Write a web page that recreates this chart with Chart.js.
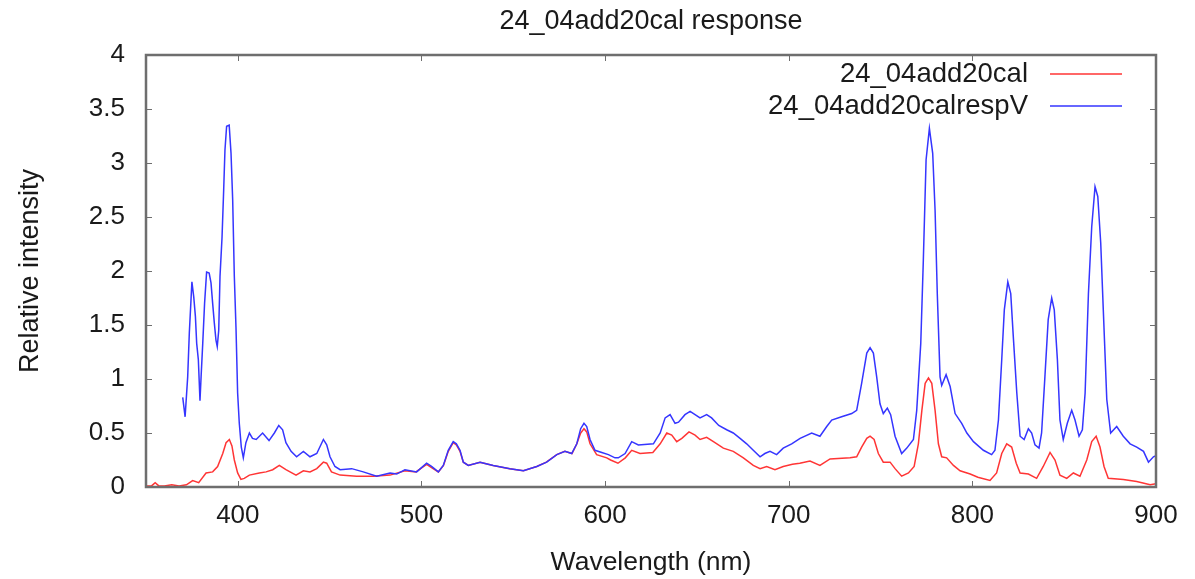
<!DOCTYPE html>
<html>
<head>
<meta charset="utf-8">
<script src="https://cdn.jsdelivr.net/npm/chart.js@4"></script>
<style>
  html, body { margin: 0; padding: 0; background: #fff; }
  #wrap { width: 1195px; height: 579px; }
</style>
</head>
<body>
<div id="wrap"><canvas id="respChart" width="1195" height="579"></canvas></div>
<script>
// 24_04add20cal (red)
const calWavelengths = [
  350, 353, 355, 357, 360, 364, 368, 372, 375.4, 378.7, 382.7, 386.3, 389, 391.8, 393.6, 395.4, 396.8, 398.1, 399.9,
  401.7, 403.5, 406.3, 411.7, 415.4, 419, 422.6, 426.2, 431.7, 435.7, 439.3, 443, 446.6, 448.4, 451, 455.7, 464.7,
  473.8, 482.9, 491, 497, 502.8, 505.5, 509.2, 512, 514.6, 517.3, 519, 521, 522.8, 525.5, 531.9, 539, 548, 555.5,
  562.8, 568, 573.7, 578, 582, 584.6, 586.7, 588.5, 590, 591.8, 595.4, 600.9, 603, 607, 611, 614.5, 619, 626, 630,
  633.6, 636.3, 639, 641.8, 645.7, 649, 651.7, 655.3, 659, 664.4, 669.8, 675.3, 680.7, 684.4, 688, 692.5, 697, 702,
  706, 711.6, 717, 722.5, 733.4, 737, 739.7, 742.5, 744.3, 746.5, 748.8, 751.5, 755.2, 757.9, 761.5, 765.2, 768.3,
  770.6, 772.5, 774.3, 776.1, 777.9, 779.7, 781.5, 783.3, 786, 789.7, 793.3, 798.8, 803, 809.6, 813.2, 816, 818.7,
  821.4, 823.9, 826, 830.5, 835, 838.6, 842.3, 845, 847.7, 851.4, 855, 858.6, 862.3, 865, 867.4, 869.5, 871.7, 874,
  882.2, 889.5, 896.8, 900
];
const calValues = [
  0.01, 0.01, 0.04, 0.01, 0.01, 0.02, 0.01, 0.02, 0.06, 0.04, 0.13, 0.14, 0.19, 0.31, 0.41, 0.44, 0.38, 0.25, 0.13,
  0.07, 0.08, 0.11, 0.13, 0.14, 0.16, 0.20, 0.16, 0.11, 0.15, 0.14, 0.17, 0.23, 0.22, 0.14, 0.11, 0.10,
  0.10, 0.11, 0.15, 0.14, 0.21, 0.18, 0.14, 0.20, 0.33, 0.41, 0.39, 0.33, 0.23, 0.20, 0.23, 0.20, 0.17, 0.15,
  0.19, 0.23, 0.30, 0.33, 0.31, 0.40, 0.50, 0.54, 0.51, 0.40, 0.30, 0.27, 0.25, 0.22, 0.27, 0.34, 0.31, 0.32, 0.40,
  0.50, 0.48, 0.42, 0.45, 0.51, 0.48, 0.44, 0.46, 0.42, 0.36, 0.33, 0.27, 0.20, 0.17, 0.19, 0.16, 0.19, 0.21,
  0.22, 0.24, 0.20, 0.26, 0.27, 0.28, 0.37, 0.45, 0.47, 0.44, 0.31, 0.23, 0.23, 0.17, 0.10, 0.13, 0.19,
  0.40, 0.71, 0.96, 1.01, 0.96, 0.71, 0.40, 0.28, 0.27, 0.20, 0.15, 0.12, 0.09, 0.06, 0.13, 0.31, 0.40,
  0.37, 0.22, 0.13, 0.12, 0.08, 0.19, 0.32, 0.25, 0.11, 0.08, 0.13, 0.10, 0.25, 0.42, 0.47, 0.37, 0.19, 0.08,
  0.07, 0.05, 0.02, 0.03
];

// 24_04add20calrespV (blue)
const respWavelengths = [
  370, 371.3, 372.7, 373.6, 374.5, 375, 376, 376.9, 377.6, 378.5, 379.4, 380, 380.9, 381.9, 383, 384.4, 385.4, 386.3,
  387.2, 388.1, 388.8, 389.6, 390.3, 391.4, 392.3, 393, 393.9, 395.3, 396.3, 397.2, 398.1, 399, 399.9, 400.8, 401.9,
  403, 404.4, 406.3, 408, 410, 413.5, 417, 419.9, 422.3, 424.4, 426.2, 429, 432, 435.7, 439.3, 443, 446.6, 448.4,
  450.2, 452.9, 455.7, 462, 468.3, 475.6, 482.9, 486.5, 491, 497.4, 502.8, 505.5, 509.2, 511.9, 514.6, 517.3, 519,
  521, 522.8, 525.5, 531.9, 539.1, 548.2, 555.5, 562.8, 568.2, 573.7, 578.2, 581.8, 584.6, 586.7, 588.5, 590, 591.8,
  594.5, 598.2, 601.8, 605.4, 607.2, 610.9, 614.5, 618.1, 626.3, 630, 632.7, 635.4, 638.1, 640, 643.5, 646.3, 649,
  651.7, 655.3, 658, 661.9, 666.2, 669.8, 673.5, 677.1, 680.7, 684.4, 687, 689.8, 693.4, 697, 701.6, 706.2, 712.5,
  717, 720.7, 723.4, 728.8, 734.3, 737, 739.7, 742.5, 744.3, 746.1, 747.9, 749.7, 751.5, 753.7, 755.5, 757.9, 761.5,
  764.3, 767.9, 769.7, 771.9, 773.3, 774.8, 776.6, 778.4, 779.7, 780.9, 782.4, 783.3, 785.7, 787.9, 790.6, 794.2,
  797, 800.6, 806, 810.5, 812.3, 814.2, 816, 817.4, 819.3, 820.9, 822.3, 824.2, 826, 828.2, 830.5, 832.3, 834.1,
  836.3, 837.7, 839.5, 841.3, 843.2, 844.6, 846.3, 847.7, 849.5, 851.7, 854.1, 855.9, 858.1, 859.9, 861.4, 863.2,
  865, 866.8, 868.3, 869.9, 871.3, 873.2, 875.3, 878.6, 882.2, 885.9, 889.5, 893.2, 895.9, 898.6, 900
];
const respValues = [
  0.83, 0.65, 1.02, 1.43, 1.73, 1.90, 1.76, 1.58, 1.33, 1.18, 0.80, 1.02, 1.33, 1.70, 1.99, 1.98, 1.89, 1.70,
  1.52, 1.36, 1.30, 1.45, 1.95, 2.31, 2.75, 3.12, 3.34, 3.35, 3.09, 2.66, 1.95, 1.48, 0.87, 0.59, 0.37,
  0.27, 0.41, 0.50, 0.45, 0.44, 0.50, 0.43, 0.50, 0.57, 0.53, 0.41, 0.33, 0.28, 0.33, 0.28, 0.31, 0.44, 0.39,
  0.28, 0.19, 0.16, 0.17, 0.14, 0.10, 0.13, 0.12, 0.16, 0.14, 0.22, 0.19, 0.14, 0.20, 0.34, 0.42, 0.40,
  0.34, 0.23, 0.20, 0.23, 0.20, 0.17, 0.15, 0.19, 0.23, 0.30, 0.33, 0.31, 0.40, 0.54, 0.59, 0.56, 0.44,
  0.34, 0.32, 0.30, 0.27, 0.27, 0.31, 0.42, 0.39, 0.40, 0.50, 0.64, 0.67, 0.59, 0.60, 0.67, 0.70, 0.67,
  0.64, 0.67, 0.64, 0.57, 0.53, 0.50, 0.45, 0.40, 0.34, 0.28, 0.31, 0.33, 0.30, 0.36, 0.40, 0.45, 0.50,
  0.47, 0.56, 0.62, 0.65, 0.68, 0.71, 0.96, 1.24, 1.29, 1.24, 1.02, 0.77, 0.68, 0.73, 0.67, 0.47, 0.31,
  0.36, 0.44, 0.71, 1.33, 2.10, 3.03, 3.32, 3.09, 2.56, 1.79, 1.02, 0.94, 1.04, 0.93, 0.68, 0.59,
  0.50, 0.42, 0.34, 0.30, 0.34, 0.62, 1.18, 1.64, 1.90, 1.79, 1.39, 0.87, 0.47, 0.44, 0.54, 0.50, 0.39,
  0.36, 0.50, 1.02, 1.55, 1.75, 1.64, 1.18, 0.62, 0.44, 0.59, 0.71, 0.62, 0.47, 0.53, 0.87, 1.79,
  2.41, 2.78, 2.69, 2.26, 1.64, 0.81, 0.50, 0.56, 0.47, 0.40, 0.37, 0.33, 0.23, 0.28, 0.29
];

const xTicks = [400, 500, 600, 700, 800, 900];
const yTicks = [0, 0.5, 1, 1.5, 2, 2.5, 3, 3.5, 4];

const FONT = "'Liberation Sans', Arial, sans-serif";

// gnuplot-like frame, inward ticks, centred title and right-aligned legend
const gnuplotDecor = {
  id: 'gnuplotDecor',
  afterDatasetsDraw(chart) {
    const { ctx, chartArea: a, scales } = chart;
    ctx.save();
    ctx.strokeStyle = '#6e6e6e';
    ctx.lineWidth = 1;
    ctx.beginPath();
    xTicks.forEach(v => {
      const px = Math.round(scales.x.getPixelForValue(v)) + 0.5;
      ctx.moveTo(px, a.bottom); ctx.lineTo(px, a.bottom - 6);
      ctx.moveTo(px, a.top); ctx.lineTo(px, a.top + 6);
    });
    yTicks.forEach(v => {
      const py = Math.round(scales.y.getPixelForValue(v)) + 0.5;
      ctx.moveTo(a.left, py); ctx.lineTo(a.left + 6, py);
      ctx.moveTo(a.right, py); ctx.lineTo(a.right - 6, py);
    });
    ctx.stroke();
    ctx.lineWidth = 2.5;
    ctx.strokeRect(a.left, a.top, a.right - a.left, a.bottom - a.top);

    // title
    ctx.fillStyle = '#1a1a1a';
    ctx.font = '27px ' + FONT;
    ctx.textAlign = 'center';
    ctx.textBaseline = 'middle';
    ctx.fillText('24_04add20cal response', (a.left + a.right) / 2, 22);

    // legend
    ctx.font = '27.5px ' + FONT;
    ctx.textAlign = 'right';
    chart.data.datasets.forEach((ds, i) => {
      const y = 74 + i * 32;
      ctx.fillStyle = '#1a1a1a';
      ctx.fillText(ds.label, 1028, y);
      ctx.strokeStyle = ds.borderColor;
      ctx.lineWidth = 1.5;
      ctx.beginPath();
      ctx.moveTo(1050, y);
      ctx.lineTo(1122, y);
      ctx.stroke();
    });
    ctx.restore();
  }
};

const toPoints = (xs, ys) => xs.map((x, i) => ({ x: x, y: ys[i] }));

new Chart(document.getElementById('respChart'), {
  type: 'line',
  data: {
    datasets: [
      {
        label: '24_04add20cal',
        data: toPoints(calWavelengths, calValues),
        borderColor: '#ff3535',
        borderWidth: 1.5,
        pointRadius: 0,
        tension: 0,
        order: 1
      },
      {
        label: '24_04add20calrespV',
        data: toPoints(respWavelengths, respValues),
        borderColor: '#3535ff',
        borderWidth: 1.5,
        pointRadius: 0,
        tension: 0,
        order: 0
      }
    ]
  },
  options: {
    responsive: false,
    animation: false,
    devicePixelRatio: 1,
    layout: { padding: { top: 55, right: 39, left: 0, bottom: 0 } },
    plugins: {
      legend: { display: false },
      title: { display: false },
      tooltip: { enabled: false }
    },
    scales: {
      x: {
        type: 'linear',
        min: 350,
        max: 900,
        afterBuildTicks: scale => { scale.ticks = xTicks.map(v => ({ value: v })); },
        afterFit: scale => { scale.height = 92; },
        grid: { display: false, drawTicks: false },
        border: { display: false },
        ticks: { padding: 13, color: '#1a1a1a', font: { family: FONT, size: 26 } },
        title: {
          display: true,
          text: 'Wavelength (nm)',
          color: '#1a1a1a',
          padding: { top: 0, bottom: 0 },
          font: { family: FONT, size: 26.5 }
        }
      },
      y: {
        min: 0,
        max: 4,
        afterBuildTicks: scale => { scale.ticks = yTicks.map(v => ({ value: v })); },
        afterFit: scale => { scale.width = 146; },
        grid: { display: false, drawTicks: false },
        border: { display: false },
        ticks: { padding: 21, color: '#1a1a1a', font: { family: FONT, size: 26 }, callback: v => String(v) },
        title: {
          display: true,
          text: 'Relative intensity',
          color: '#1a1a1a',
          padding: { top: 14, bottom: 0 },
          font: { family: FONT, size: 27 }
        }
      }
    }
  },
  plugins: [gnuplotDecor]
});
</script>
</body>
</html>
